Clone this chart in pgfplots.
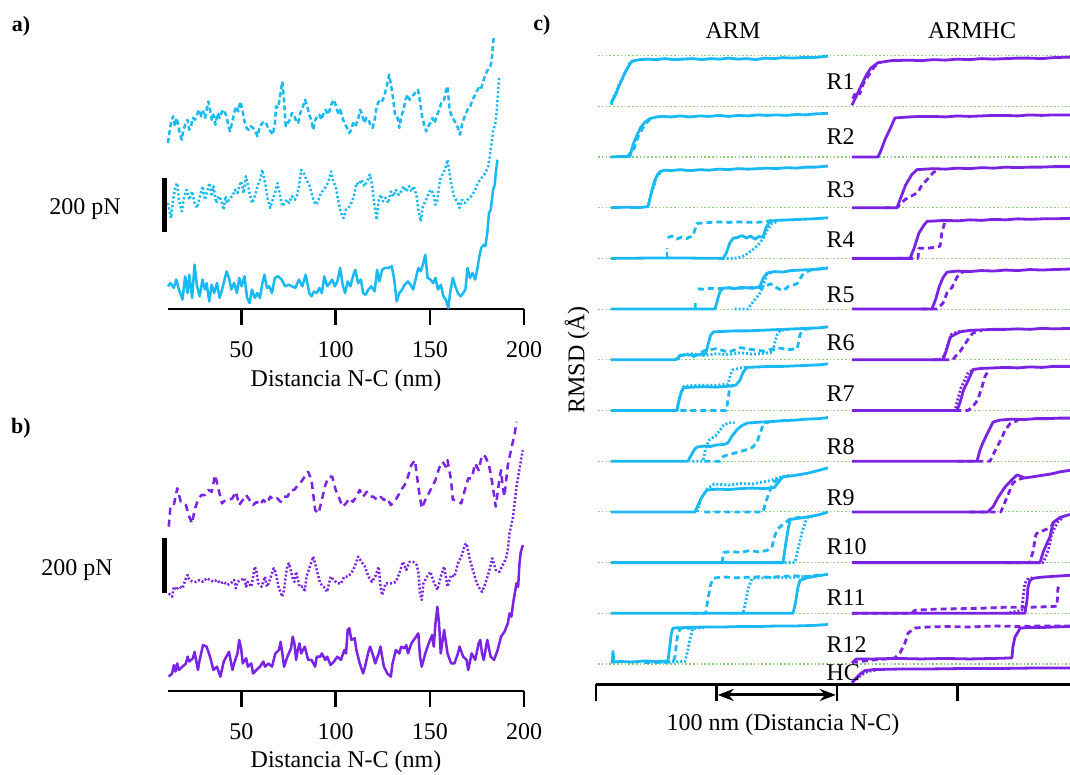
\documentclass[border=0pt]{standalone}
\usepackage{fontspec}
\setmainfont{Liberation Serif}
\usepackage{pgfplots}
\pgfplotsset{compat=1.18}
\usetikzlibrary{arrows.meta}
\definecolor{armc}{RGB}{25,185,245}
\definecolor{hcc}{RGB}{122,35,228}
\definecolor{gl}{RGB}{140,205,120}
\pgfplotsset{
  fpanel/.style={scale only axis, width=356pt, height=283.8pt, xmin=11, xmax=200, ymin=0, ymax=1050,
    axis x line*=bottom, axis y line=none, clip=false, enlargelimits=false,
    xtick={50,100,150,200}, tick align=outside, major tick length=16pt,
    axis line style={line width=2.5pt,-}, every tick/.style={black, line width=2.5pt},
    xticklabel style={font=\fontsize{24}{28}\selectfont, yshift=-13pt},
    /pgf/number format/assume math mode=true},
  tr/.style={line width=2.5pt, line join=round},
  dta/.style={tr, dash pattern=on 2.2pt off 2.2pt},
  dsa/.style={tr, dash pattern=on 5pt off 3pt},
  dtb/.style={tr, dash pattern=on 2pt off 2pt},
  dsb/.style={tr, dash pattern=on 7pt off 5pt},
  ctr/.style={line width=2.8pt, line join=round},
  cdt/.style={ctr, dash pattern=on 2pt off 2pt},
  cds/.style={ctr, dash pattern=on 6pt off 4pt},
  rowoff/.style={y filter/.expression={y+#1}},
}
\begin{document}
\begin{tikzpicture}[x=1pt,y=1pt,font=\fontsize{24}{28}\selectfont]
\useasboundingbox (0,0) rectangle (1070,774);

% ---------------- panel a
\begin{axis}[fpanel, at={(168pt,465pt)}, anchor=south west]
\addplot[armc, tr] coordinates {(11.0,84)(12.3,96)(14.1,78)(15.4,109)(16.8,72)(18.7,35)(20.1,121)(21.4,59)(22.3,127)(23.8,41)(25.1,164)(26.4,84)(27.8,47)(29.3,109)(30.6,72)(31.5,96)(32.9,28)(34.2,90)(35.5,59)(37.0,96)(38.4,41)(39.7,72)(41.0,109)(42.1,139)(43.4,115)(44.6,72)(46.1,96)(47.6,59)(48.8,115)(50.1,84)(51.6,121)(53.0,41)(54.3,22)(55.6,72)(57.1,41)(58.5,59)(59.8,41)(61.1,96)(62.2,127)(63.5,78)(64.7,84)(66.2,59)(67.7,115)(69.5,121)(71.3,109)(73.2,84)(75.0,90)(76.8,84)(78.6,78)(80.5,109)(82.3,84)(84.1,127)(86.0,59)(87.2,47)(88.5,65)(90.0,59)(91.4,78)(92.7,59)(94.0,121)(95.5,84)(96.9,96)(98.2,109)(99.5,84)(100.9,102)(102.4,152)(103.7,90)(105.0,59)(106.4,102)(107.9,84)(109.2,121)(110.4,145)(111.9,96)(113.4,109)(114.6,59)(115.9,53)(117.4,72)(118.9,84)(120.7,65)(122.0,145)(123.2,102)(124.7,145)(126.2,152)(128.0,152)(129.8,158)(131.1,109)(132.4,28)(133.8,59)(135.3,72)(136.6,90)(138.4,102)(139.7,90)(141.2,72)(142.6,115)(143.9,152)(145.2,139)(146.3,164)(147.6,201)(148.8,115)(150.3,109)(151.8,96)(153.0,115)(154.3,72)(155.8,90)(157.2,47)(158.5,35)(159.8,4)(160.9,65)(162.2,115)(163.5,84)(164.9,59)(166.4,47)(167.7,59)(168.9,72)(170.0,152)(171.3,115)(172.6,133)(174.1,109)(175.3,152)(176.3,195)(177.3,226)(178.6,238)(179.5,232)(180.5,281)(181.4,355)(182.3,367)(183.6,441)(184.5,460)(185.0,503)(185.9,552)};
\addplot[armc, dta] coordinates {(11.0,392)(11.7,367)(12.6,336)(13.7,404)(15.0,454)(15.9,466)(16.8,404)(18.3,361)(19.6,417)(20.9,441)(22.3,404)(23.8,435)(25.1,392)(26.4,374)(27.8,411)(29.3,454)(30.6,404)(31.5,429)(32.9,466)(34.2,417)(35.1,454)(36.6,392)(37.9,417)(39.2,404)(40.6,367)(41.5,417)(42.4,392)(43.9,411)(45.2,417)(46.5,441)(47.9,429)(48.8,454)(49.8,472)(51.2,429)(52.3,491)(53.4,460)(54.3,429)(55.6,392)(57.1,417)(58.5,454)(59.8,478)(61.1,515)(62.2,478)(62.9,454)(64.0,404)(65.3,374)(66.6,404)(68.0,435)(69.1,466)(70.2,429)(71.7,380)(73.0,392)(74.1,404)(75.3,392)(76.8,417)(78.3,404)(79.4,417)(80.5,454)(81.7,515)(83.0,503)(84.5,478)(86.0,460)(87.2,429)(88.5,398)(89.6,386)(90.9,404)(92.2,429)(93.6,441)(95.1,454)(96.4,478)(97.6,509)(98.7,472)(100.0,454)(101.3,404)(102.8,355)(104.2,336)(105.5,367)(106.8,374)(108.3,392)(109.7,417)(111.0,466)(112.3,460)(113.7,478)(115.2,454)(116.7,472)(118.1,497)(119.2,466)(120.7,380)(121.8,330)(122.9,404)(124.0,423)(125.1,398)(126.5,411)(128.0,392)(129.3,435)(130.6,417)(132.0,441)(133.5,423)(134.8,435)(136.0,454)(137.5,435)(139.0,454)(140.2,435)(141.5,454)(143.0,417)(143.9,367)(145.2,324)(146.3,380)(147.6,398)(148.8,417)(150.3,441)(151.8,429)(153.0,386)(154.0,404)(155.4,478)(156.7,497)(158.0,515)(159.4,552)(160.3,509)(161.6,454)(163.1,411)(164.6,398)(165.8,374)(167.1,404)(168.6,392)(170.0,404)(171.3,411)(172.6,423)(174.1,441)(175.3,466)(176.8,478)(178.1,491)(179.5,503)(181.0,528)(181.7,559)(182.8,614)(183.7,663)(184.7,682)(185.6,737)(186.3,811)(186.9,861)};
\addplot[armc, dsa] coordinates {(11.0,614)(11.7,651)(12.6,688)(13.7,713)(14.7,676)(15.4,707)(16.5,682)(17.2,651)(18.3,626)(19.0,657)(20.1,682)(21.4,700)(22.3,663)(23.2,676)(24.2,707)(25.3,700)(26.4,719)(27.5,737)(28.7,713)(29.6,731)(30.7,707)(31.5,737)(32.4,768)(33.3,737)(34.2,700)(35.1,719)(36.2,682)(37.3,725)(38.4,707)(39.7,731)(40.6,737)(41.7,719)(42.8,688)(43.9,657)(45.0,688)(46.1,725)(47.2,750)(48.3,731)(49.4,768)(50.5,737)(51.6,694)(52.7,670)(53.8,663)(54.9,676)(56.2,670)(57.4,657)(58.5,639)(59.8,676)(61.1,688)(62.2,694)(63.5,682)(64.4,663)(65.5,657)(66.6,645)(67.7,682)(68.4,750)(69.5,744)(70.2,774)(71.0,811)(71.7,842)(72.6,774)(73.5,676)(74.6,688)(75.7,700)(76.8,725)(77.9,719)(79.0,694)(80.1,688)(81.2,725)(82.7,750)(83.8,774)(84.9,750)(86.0,719)(87.0,700)(88.1,663)(89.2,700)(90.3,713)(91.4,719)(92.5,700)(93.6,725)(94.7,737)(95.8,719)(96.9,737)(98.0,762)(99.1,774)(100.2,750)(101.3,725)(102.4,737)(103.7,707)(104.6,688)(106.1,670)(107.2,651)(108.3,663)(109.3,688)(110.4,676)(111.9,700)(113.0,737)(114.1,719)(115.2,688)(116.3,707)(117.4,700)(118.5,682)(119.6,670)(120.7,700)(121.8,750)(122.9,768)(124.0,762)(125.1,774)(126.2,799)(127.3,830)(128.4,867)(129.5,824)(130.6,774)(131.6,713)(132.9,707)(133.8,670)(134.9,713)(136.0,737)(137.1,774)(138.2,793)(139.3,774)(140.4,787)(141.5,793)(142.6,805)(143.7,811)(144.8,768)(145.9,713)(147.0,682)(148.1,657)(149.2,676)(150.3,688)(151.4,707)(152.5,688)(153.6,713)(154.9,737)(156.1,762)(157.6,774)(158.7,811)(159.4,824)(160.5,737)(161.6,713)(162.7,700)(163.8,688)(164.9,670)(166.0,645)(167.1,682)(168.2,707)(169.3,725)(170.4,744)(171.5,750)(172.6,774)(173.7,787)(174.8,805)(175.9,817)(177.0,811)(178.1,836)(179.2,861)(180.3,879)(181.4,891)(182.1,898)(182.8,916)(183.6,984)(183.9,1002)};
\draw[line width=5pt] ([xshift=-3.5pt]axis cs:11,285) -- ([xshift=-3.5pt]axis cs:11,485);
\end{axis}

% ---------------- panel b
\begin{axis}[fpanel, at={(168pt,83pt)}, anchor=south west]
\addplot[hcc, tr] coordinates {(11.4,53)(13.2,65)(14.1,96)(15.0,72)(15.9,102)(16.8,78)(18.7,90)(20.5,102)(21.4,127)(22.3,109)(24.2,121)(25.1,145)(26.9,78)(27.8,115)(29.6,170)(31.5,164)(33.3,127)(35.1,78)(37.0,90)(38.8,53)(40.6,109)(42.4,133)(43.4,145)(45.2,78)(46.1,102)(47.9,139)(48.8,189)(49.8,158)(50.7,102)(52.5,121)(53.4,90)(55.2,102)(56.2,65)(58.0,78)(59.8,90)(61.6,109)(62.5,90)(64.4,102)(66.2,90)(68.0,139)(69.9,152)(70.8,182)(71.7,139)(72.6,90)(74.4,127)(76.3,158)(77.2,201)(78.1,176)(79.0,115)(79.9,152)(80.8,176)(81.7,139)(83.6,164)(85.4,115)(87.2,115)(89.1,90)(90.0,127)(91.8,127)(92.7,139)(94.5,115)(95.5,127)(97.3,96)(99.1,109)(100.9,127)(102.8,115)(104.6,152)(105.5,139)(106.4,226)(107.3,232)(108.3,189)(110.1,195)(111.0,152)(112.8,102)(114.6,65)(115.6,90)(117.4,145)(118.3,164)(120.1,127)(121.0,102)(122.9,139)(123.8,164)(125.6,90)(127.4,65)(129.3,53)(130.2,102)(132.0,152)(133.8,139)(134.8,164)(136.6,158)(137.5,170)(138.4,139)(140.2,176)(142.1,195)(143.9,213)(144.8,127)(145.7,90)(147.6,139)(149.4,176)(151.2,207)(152.1,164)(153.0,250)(154.0,312)(154.9,250)(155.8,139)(157.6,226)(159.4,139)(161.3,102)(163.1,102)(164.9,139)(165.8,164)(167.7,127)(169.5,115)(170.4,78)(172.2,139)(174.1,115)(175.9,176)(176.8,189)(177.7,139)(178.6,115)(180.5,189)(182.3,127)(184.1,115)(186.0,152)(187.8,201)(189.6,219)(191.4,250)(192.3,287)(193.3,275)(194.2,324)(195.1,361)(196.0,398)(196.9,386)(197.6,472)(198.3,515)(199.4,540)};
\addplot[hcc, dtb] coordinates {(11.4,361)(13.2,349)(14.1,386)(15.0,374)(16.8,386)(18.7,380)(20.5,417)(21.4,429)(22.3,411)(24.2,404)(26.0,404)(27.8,411)(29.6,404)(31.5,417)(33.3,411)(35.1,404)(37.0,411)(38.8,398)(40.6,404)(42.4,392)(44.3,398)(46.1,411)(47.0,380)(47.9,404)(49.8,411)(51.6,417)(52.5,386)(53.4,404)(55.2,386)(56.2,423)(57.1,460)(58.0,441)(58.9,398)(60.7,386)(62.5,423)(63.5,386)(64.4,398)(66.2,435)(67.1,454)(68.0,441)(69.9,380)(71.7,349)(72.6,374)(73.5,423)(74.4,466)(75.3,472)(77.2,417)(78.1,404)(79.0,441)(80.8,386)(82.7,386)(83.6,367)(84.5,423)(86.3,460)(88.1,497)(90.0,448)(91.8,398)(93.6,386)(95.5,367)(97.3,423)(99.1,411)(100.9,398)(102.8,398)(104.6,423)(106.4,423)(108.3,435)(110.1,460)(111.9,497)(113.7,478)(115.6,460)(117.4,423)(119.2,404)(121.0,423)(122.9,460)(123.8,386)(124.7,355)(126.5,398)(128.4,398)(130.2,398)(132.0,404)(133.8,435)(135.7,478)(137.5,448)(139.3,478)(141.2,478)(143.0,466)(143.9,441)(144.8,361)(145.7,337)(146.6,398)(148.5,423)(150.3,441)(152.1,404)(154.0,374)(155.8,423)(157.6,460)(159.4,386)(161.3,429)(163.1,423)(164.9,472)(166.7,497)(168.6,540)(169.5,546)(171.3,485)(173.1,441)(175.0,398)(176.8,374)(177.7,367)(179.5,398)(181.4,441)(183.2,491)(185.0,448)(186.9,441)(188.7,466)(190.5,491)(191.4,522)(192.3,583)(194.2,645)(196.0,756)(197.8,830)(199.3,891)};
\addplot[hcc, dsb] coordinates {(11.4,608)(12.3,682)(14.1,688)(15.9,750)(17.8,700)(20.5,688)(22.3,645)(23.8,620)(25.1,670)(26.9,707)(28.7,725)(30.6,725)(32.4,744)(34.2,737)(36.0,799)(37.9,744)(39.7,694)(41.5,707)(43.4,707)(45.2,713)(47.0,737)(48.8,688)(50.7,707)(52.5,725)(54.3,707)(56.2,688)(58.0,700)(59.8,688)(61.6,707)(63.5,694)(65.3,719)(67.1,707)(69.0,713)(70.8,700)(72.6,719)(74.4,719)(76.3,744)(78.1,744)(79.9,762)(81.7,774)(83.6,793)(85.4,811)(87.2,780)(89.1,670)(90.9,657)(92.7,707)(94.5,762)(96.4,793)(98.2,793)(100.0,744)(101.9,713)(103.7,682)(105.5,694)(107.3,713)(109.2,700)(111.0,719)(112.8,744)(114.6,719)(116.5,737)(118.3,719)(120.1,719)(122.0,707)(123.8,719)(125.6,707)(127.4,713)(129.3,688)(131.1,700)(132.9,719)(134.8,744)(136.6,762)(138.4,793)(140.2,836)(142.1,854)(143.9,756)(145.7,676)(147.6,707)(149.4,731)(151.2,756)(153.0,780)(154.9,824)(156.7,848)(158.5,830)(159.4,854)(161.3,780)(162.2,707)(164.0,707)(166.7,694)(168.6,744)(170.4,787)(172.2,787)(174.1,842)(175.9,817)(177.7,873)(179.5,867)(181.4,836)(183.2,768)(185.0,682)(186.9,780)(187.8,817)(188.7,756)(189.6,719)(191.4,836)(193.3,898)(195.1,953)(196.0,996)};
\draw[line width=5pt] ([xshift=-3.5pt]axis cs:11,363) -- ([xshift=-3.5pt]axis cs:11,566);
\end{axis}

% ---------------- panel c
\begin{axis}[scale only axis, width=474pt, height=649pt, at={(596pt,89.7pt)}, anchor=south west,
  xmin=0, xmax=393.4, ymin=-0.4, ymax=12.4, enlargelimits=false, clip=false,
  axis x line*=bottom, axis y line=none, xtick={0,100,200,300}, xticklabels={},
  tick align=outside, major tick length=17pt,
  axis line style={line width=2.5pt,-}, every tick/.style={black, line width=2.5pt}]
\pgfplotsinvokeforeach{0,...,12}{\addplot[gl, line width=1.1pt, dash pattern=on 1.6pt off 2.2pt] coordinates {(1.7,#1) (393.4,#1)};}
% ARM R1
\addplot[armc, ctr, rowoff=11] coordinates {(12.4,.06)(14.5,.15)(16.6,.24)(19,.4)(21.6,.53)(23.5,.64)(25.7,.73)(27.8,.82)(29.9,.89)(32,.9)(36.5,.92)(43,.93)(50,.92)(57,.94)(65,.92)(72,.93)(80,.94)(88,.92)(95,.94)(103,.93)(110,.95)(118,.93)(125,.94)(133,.92)(140,.95)(148,.94)(155,.96)(163,.95)(170,.96)(178,.96)(185,.97)(192.5,.99)};
\addplot[armc, cdt, rowoff=11] coordinates {(12.6,.03)(15,.2)(17,.3)(19.5,.45)(22,.55)(25,.7)(28,.85)(31,.9)};
% ARM R2
\addplot[armc, ctr, rowoff=10] coordinates {(12.4,0)(20,.01)(28.2,.01)(30.7,.24)(34,.43)(37,.58)(40.7,.69)(45,.76)(50.6,.79)(55,.8)(62,.79)(70,.81)(78,.79)(86,.81)(94,.8)(102,.82)(110,.8)(118,.82)(126,.81)(134,.83)(142,.82)(150,.83)(158,.82)(166,.84)(174,.83)(182,.85)(192.5,.86)};
\addplot[armc, cds, rowoff=10] coordinates {(26,0)(28.5,.08)(31,.1)(33,.3)(36,.45)(40,.62)(45,.75)};
% ARM R3
\addplot[armc, ctr, rowoff=9] coordinates {(12.4,0)(25,.01)(35,0)(43.2,.02)(45.6,.26)(47,.4)(49,.55)(51,.65)(53.1,.71)(57,.74)(62,.73)(70,.75)(78,.73)(86,.75)(94,.74)(102,.76)(110,.75)(118,.77)(126,.76)(134,.77)(142,.78)(150,.77)(158,.79)(166,.78)(174,.8)(182,.8)(192.5,.82)};
\addplot[armc, cdt, rowoff=9] coordinates {(42,0)(44,.1)(46,.3)(48.5,.45)(50,.6)(54,.7)};
% ARM R4
\addplot[armc, ctr, rowoff=8] coordinates {(12.4,0)(60,.01)(105.4,0)(108,.1)(111,.3)(114,.4)(117,.41)(121,.45)(125,.4)(128,.44)(132,.38)(135,.43)(138.6,.42)(141,.6)(144.4,.73)(150,.75)(160,.76)(170,.77)(180,.78)(192.5,.8)};
\addplot[armc, cds, rowoff=8] coordinates {(58.9,0)(58.9,.2)};
\addplot[armc, cds, rowoff=8] coordinates {(59.5,.41)(63,.44)(67,.38)(71,.42)(75,.39)(80.5,.45)(83.8,.69)(90,.7)(100,.72)(110,.71)(120,.72)(130,.71)(140,.72)(146,.75)};
\addplot[armc, cdt, rowoff=8] coordinates {(105,0)(113.7,0)(119.5,.02)(123.7,.06)(129.5,.16)(134.4,.26)(138.6,.39)(141.9,.55)(146,.69)(151,.73)};
% ARM R5
\addplot[armc, ctr, rowoff=7] coordinates {(12.4,0)(60,0)(98.8,0)(101,.2)(103,.35)(105.4,.41)(110,.42)(115,.4)(120,.43)(125,.42)(130,.41)(134,.43)(136.1,.45)(139,.62)(141.9,.71)(148,.74)(155,.73)(162,.76)(170,.77)(180,.78)(192.5,.81)};
\addplot[armc, cds, rowoff=7] coordinates {(82.2,0)(82.5,.18)};
\addplot[armc, cds, rowoff=7] coordinates {(84.5,.4)(90,.39)(95,.41)(100,.4)(110,.42)(120,.41)(130,.43)(138,.42)(145,.5)(150,.42)(155,.36)(160,.45)(166.8,.5)(172,.7)(178,.77)(192.5,.81)};
\addplot[armc, cdt, rowoff=7] coordinates {(115,0)(126,0)(129,.1)(133,.22)(136.1,.32)(138.6,.45)(142,.68)(146,.73)};
% ARM R6
\addplot[armc, ctr, rowoff=6] coordinates {(12.4,0)(40,0)(66,0)(69.7,.08)(75,.1)(80,.09)(86,.1)(91,.12)(93,.3)(95,.48)(97.5,.55)(105,.56)(115,.57)(125,.57)(135,.58)(145,.59)(155,.6)(165,.61)(175,.62)(185,.63)(192.5,.65)};
\addplot[armc, cdt, rowoff=6] coordinates {(68,0)(70,.1)(80,.12)(90,.08)(100,.12)(110,.1)(120,.14)(130,.11)(140,.13)(146.9,.15)(148.5,.35)(150.2,.49)(153,.58)(160,.6)};
\addplot[armc, cds, rowoff=6] coordinates {(80,.05)(90,.18)(100,.22)(110,.15)(120,.24)(130,.2)(140,.17)(150,.24)(160,.2)(167,.22)(169.3,.5)(172,.6)(180,.62)};
% ARM R7
\addplot[armc, ctr, rowoff=5] coordinates {(12.4,0)(40,0)(67.2,0)(69,.2)(71,.38)(72.5,.45)(80,.46)(90,.47)(100,.46)(110,.48)(116,.5)(119.5,.6)(122,.75)(125.3,.85)(135,.86)(145,.87)(155,.87)(165,.88)(175,.89)(185,.9)(192.5,.92)};
\addplot[armc, cdt, rowoff=5] coordinates {(67,0)(69,.25)(73,.48)(85,.5)(100,.5)(109.5,.52)(111.5,.7)(113.5,.8)(120,.84)(126,.86)};
\addplot[armc, cds, rowoff=5] coordinates {(70,0)(108,0)(109.5,.2)(111,.45)(113,.5)};
% ARM R8
\addplot[armc, ctr, rowoff=4] coordinates {(12.4,0)(40,0)(76.3,0)(79,.12)(82,.24)(84,.28)(90,.3)(95,.29)(100,.32)(106,.33)(109.5,.36)(113,.5)(117,.62)(121,.7)(125.3,.75)(135,.77)(145,.78)(155,.8)(165,.81)(175,.83)(185,.84)(192.5,.86)};
\addplot[armc, cdt, rowoff=4] coordinates {(80,0)(88.8,0)(91,.25)(94,.42)(99,.5)(102.9,.61)(106,.72)(111.2,.76)(115,.76)};
\addplot[armc, cds, rowoff=4] coordinates {(90,0)(103,0)(106,.1)(112,.14)(118,.18)(124,.22)(130.3,.28)(134,.4)(137,.6)(139,.75)(145,.78)};
% ARM R9
\addplot[armc, ctr, rowoff=3] coordinates {(12.4,0)(40,0)(82.2,0)(85,.15)(88,.3)(92.1,.43)(100,.45)(110,.44)(120,.46)(130,.47)(140,.46)(148,.48)(150.2,.55)(155,.69)(165,.72)(175,.76)(185,.82)(192.5,.87)};
\addplot[armc, cdt, rowoff=3] coordinates {(84,0)(87,.25)(92,.45)(98,.55)(110,.53)(120,.56)(130,.55)(136,.58)(145,.62)(152,.68)(160,.72)};
\addplot[armc, cds, rowoff=3] coordinates {(90,0)(138.6,0)(141,.2)(144,.4)(146.9,.57)(152,.68)};
% ARM R10
\addplot[armc, ctr, rowoff=2] coordinates {(12.4,0)(60,0)(110,0)(155.2,0)(157,.3)(159,.6)(161,.85)(170,.88)(180,.92)(186,.95)(192.5,1.0)};
\addplot[armc, cdt, rowoff=2] coordinates {(150,0)(165.1,0)(168,.3)(171,.6)(175.1,.88)(182,.93)};
\addplot[armc, cds, rowoff=2] coordinates {(104.6,0)(106,.2)(112,.22)(120,.2)(128,.24)(135,.21)(141.9,.24)(146,.3)(148,.5)(150.2,.65)(155,.75)(161,.86)(170,.9)};
% ARM R11
\addplot[armc, ctr, rowoff=1] coordinates {(12.4,0)(60,0)(110,0)(163.5,0)(165.5,.2)(167.5,.5)(169.3,.65)(175,.7)(182,.73)(192.5,.77)};
\addplot[armc, cdt, rowoff=1] coordinates {(110,0)(122,0)(124,.2)(126.5,.5)(129.5,.69)(140,.7)(150,.71)(160,.7)(170,.72)(180,.73)};
\addplot[armc, cds, rowoff=1] coordinates {(80,0)(91,0)(93,.3)(95,.55)(97.1,.69)(105,.72)(115,.7)(125,.71)(135,.72)(145,.71)(155,.73)(165,.74)(175,.72)(185,.76)};
% ARM R12
\addplot[armc, ctr, rowoff=0] coordinates {(12.4,.03)(13.5,.04)(14.1,.25)(14.8,.04)(20,.05)(30,.04)(40,.06)(50,.05)(59.8,.06)(61,.3)(62.5,.6)(63.9,.71)(75,.72)(90,.73)(105,.73)(120,.74)(135,.74)(150,.75)(165,.75)(180,.76)(192.5,.78)};
\addplot[armc, cds, rowoff=0] coordinates {(40,.03)(64,.04)(65.6,.15)(67,.45)(68,.6)(70,.7)(80,.71)};
\addplot[armc, cdt, rowoff=0] coordinates {(50,.03)(73.9,.05)(76,.25)(78,.5)(80.5,.7)(90,.72)};
% ARMHC R1
\addplot[hcc, ctr, rowoff=11] coordinates {(212.4,.02)(216,.2)(220,.4)(224,.6)(228,.75)(234,.86)(245,.9)(260,.91)(270,.9)(280,.92)(290,.91)(300,.93)(310,.92)(320,.94)(330,.93)(340,.94)(350,.95)(360,.95)(370,.94)(380,.96)(393.4,.97)};
\addplot[hcc, cds, rowoff=11] coordinates {(213,.15)(216,.3)(219,.25)(222,.45)(226,.6)(231,.78)(236,.87)};
% ARMHC R2
\addplot[hcc, ctr, rowoff=10] coordinates {(212.4,0)(234,0)(236,.1)(240,.35)(244,.55)(248.1,.77)(260,.79)(270,.8)(280,.8)(290,.79)(300,.81)(310,.8)(320,.81)(330,.82)(340,.82)(350,.81)(360,.83)(370,.82)(380,.83)(393.4,.83)};
% ARMHC R3
\addplot[hcc, ctr, rowoff=9] coordinates {(212.4,0)(249.8,0)(253,.2)(257,.45)(262,.65)(266.4,.75)(280,.77)(290,.76)(300,.78)(310,.77)(320,.79)(330,.78)(340,.8)(350,.79)(360,.8)(370,.8)(380,.81)(393.4,.81)};
\addplot[hcc, cds, rowoff=9] coordinates {(240,0)(249.8,0)(256.4,.16)(267.2,.3)(270.5,.45)(274.7,.55)(279.7,.69)(285,.77)};
% ARMHC R4
\addplot[hcc, ctr, rowoff=8] coordinates {(212.4,0)(260.6,0)(264,.2)(268,.5)(272,.65)(274.7,.73)(290,.75)(300,.74)(310,.76)(320,.75)(330,.77)(340,.76)(350,.78)(360,.77)(370,.78)(380,.78)(393.4,.79)};
\addplot[hcc, cds, rowoff=8] coordinates {(250,0)(267.2,0)(268,.2)(275,.2)(282,.22)(285.5,.24)(287,.5)(289.6,.73)(295,.75)};
% ARMHC R5
\addplot[hcc, ctr, rowoff=7] coordinates {(212.4,0)(278.8,0)(282,.2)(285,.45)(288,.62)(291.3,.73)(300,.75)(310,.74)(320,.76)(330,.75)(340,.77)(350,.76)(360,.78)(370,.77)(380,.78)(393.4,.79)};
\addplot[hcc, cds, rowoff=7] coordinates {(270,0)(283,0)(288,.12)(291.3,.32)(295.5,.43)(299.6,.63)(303,.72)(308,.75)};
% ARMHC R6
\addplot[hcc, ctr, rowoff=6] coordinates {(212.4,0)(288,0)(291,.2)(294,.45)(298,.5)(302.1,.55)(310,.58)(320,.59)(330,.6)(340,.6)(350,.61)(360,.6)(370,.62)(380,.61)(393.4,.62)};
\addplot[hcc, cdt, rowoff=6] coordinates {(285,0)(289,.08)(292,.3)(295,.5)(300,.55)(305,.57)};
\addplot[hcc, cds, rowoff=6] coordinates {(280,0)(296.3,0)(298,.06)(302,.16)(306,.3)(310,.45)(312.9,.53)(320,.58)};
% ARMHC R7
\addplot[hcc, ctr, rowoff=5] coordinates {(212.4,0)(299.6,0)(302,.15)(305,.4)(309,.6)(312.9,.81)(320,.83)(330,.84)(340,.85)(350,.84)(360,.86)(370,.85)(380,.87)(393.4,.87)};
\addplot[hcc, cdt, rowoff=5] coordinates {(290,0)(298,0)(300,.2)(303,.45)(306,.6)(309,.75)(313,.8)};
\addplot[hcc, cds, rowoff=5] coordinates {(290,0)(308.7,0)(312.9,.08)(317,.22)(320.4,.47)(322.8,.67)(326,.8)};
% ARMHC R8
\addplot[hcc, ctr, rowoff=4] coordinates {(212.4,0)(316.2,0)(318.7,.22)(321.2,.37)(325.3,.57)(329.5,.77)(335,.81)(345,.83)(355,.82)(365,.84)(375,.84)(385,.85)(393.4,.85)};
\addplot[hcc, cds, rowoff=4] coordinates {(300,0)(327,0)(330.3,.16)(332.8,.28)(337,.47)(339.4,.61)(344,.75)(350,.8)};
% ARMHC R9
\addplot[hcc, ctr, rowoff=3] coordinates {(212.4,0)(325,0)(329.5,.1)(333.6,.28)(339.4,.49)(345,.63)(349.4,.73)(356,.67)(362,.69)(370,.72)(378,.75)(385,.79)(393.4,.82)};
\addplot[hcc, cds, rowoff=3] coordinates {(310,0)(336,0)(337.8,.1)(342,.34)(346,.57)(349.4,.63)(355,.67)};
% ARMHC R10
\addplot[hcc, ctr, rowoff=2] coordinates {(212.4,0)(300,0)(368.5,0)(371,.2)(374.4,.39)(376.8,.51)(379.3,.79)(385,.89)(393.4,.95)};
\addplot[hcc, cdt, rowoff=2] coordinates {(360,0)(371,0)(373,.1)(376,.3)(378,.55)(380,.65)(383,.8)(387,.88)};
\addplot[hcc, cds, rowoff=2] coordinates {(340,0)(360,0)(362.7,.22)(364,.4)(365,.55)(367,.6)(370,.62)(374,.66)(378,.72)(380,.8)};
% ARMHC R11
\addplot[hcc, ctr, rowoff=1] coordinates {(212.4,0)(300,0)(356,0)(357.7,.26)(358.5,.51)(360.2,.65)(362.7,.69)(368.5,.71)(380,.73)(393.4,.75)};
\addplot[hcc, cdt, rowoff=1] coordinates {(340,0)(353.5,.06)(354.4,.32)(356,.59)(358,.67)(362,.7)};
\addplot[hcc, cds, rowoff=1] coordinates {(212.4,0)(262,0)(264.7,.06)(280,.08)(300,.09)(320,.1)(340,.12)(360,.12)(375,.13)(382.6,.14)(383.4,.5)(385,.55)};
% ARMHC R12
\addplot[hcc, ctr, rowoff=0] coordinates {(212.4,.02)(216,.1)(230,.1)(250,.11)(270,.1)(290,.11)(310,.1)(330,.11)(345.2,.12)(346,.34)(347.7,.53)(350.2,.63)(352,.71)(360,.72)(370,.72)(380,.73)(393.4,.74)};
\addplot[hcc, cds, rowoff=0] coordinates {(212.4,.03)(230,.08)(240,.1)(248,.12)(252.3,.22)(256.4,.41)(259,.61)(264.7,.71)(275,.73)(290,.74)(310,.73)(330,.75)(350,.74)(370,.75)(393.4,.75)};
% ARMHC HC
\addplot[hcc, ctr] coordinates {(212.4,-.37)(214,-.33)(216,-.27)(219,-.2)(223.2,-.13)(230,-.11)(250,-.1)(270,-.1)(300,-.09)(330,-.09)(360,-.08)(393.4,-.08)};
\addplot[hcc, cdt] coordinates {(213,-.35)(216,-.3)(220,-.22)(225,-.15)(232,-.12)};
\draw[{Stealth[length=16pt,width=12pt]}-{Stealth[length=16pt,width=12pt]}, line width=3pt] (axis cs:101,-0.61) -- (axis cs:199,-0.61);
\end{axis}

% ---------------- texts
\node[font=\fontsize{22}{26}\selectfont\bfseries] at (21,748) {a)};
\node[font=\fontsize{22}{26}\selectfont\bfseries] at (21,346) {b)};
\node[font=\fontsize{22}{26}\selectfont\bfseries] at (542,749) {c)};
\node at (85,565) {200 pN};
\node at (77,204) {200 pN};
\node at (346,393) {Distancia N-C (nm)};
\node at (346,12) {Distancia N-C (nm)};
\node at (733,743) {ARM};
\node at (972,743) {ARMHC};
\node[rotate=90] at (577,414) {RMSD (Å)};
\node at (783,49) {100 nm (Distancia N-C)};
\node[anchor=west] at (823,692) {R1};
\node[anchor=west] at (823,637) {R2};
\node[anchor=west] at (823,584) {R3};
\node[anchor=west] at (823,534) {R4};
\node[anchor=west] at (823,479) {R5};
\node[anchor=west] at (823,431) {R6};
\node[anchor=west] at (823,380) {R7};
\node[anchor=west] at (823,327) {R8};
\node[anchor=west] at (823,276) {R9};
\node[anchor=west] at (823,227) {R10};
\node[anchor=west] at (823,176) {R11};
\node[anchor=west] at (823,129) {R12};
\node[anchor=west] at (823,101) {HC};
\end{tikzpicture}
\end{document}
